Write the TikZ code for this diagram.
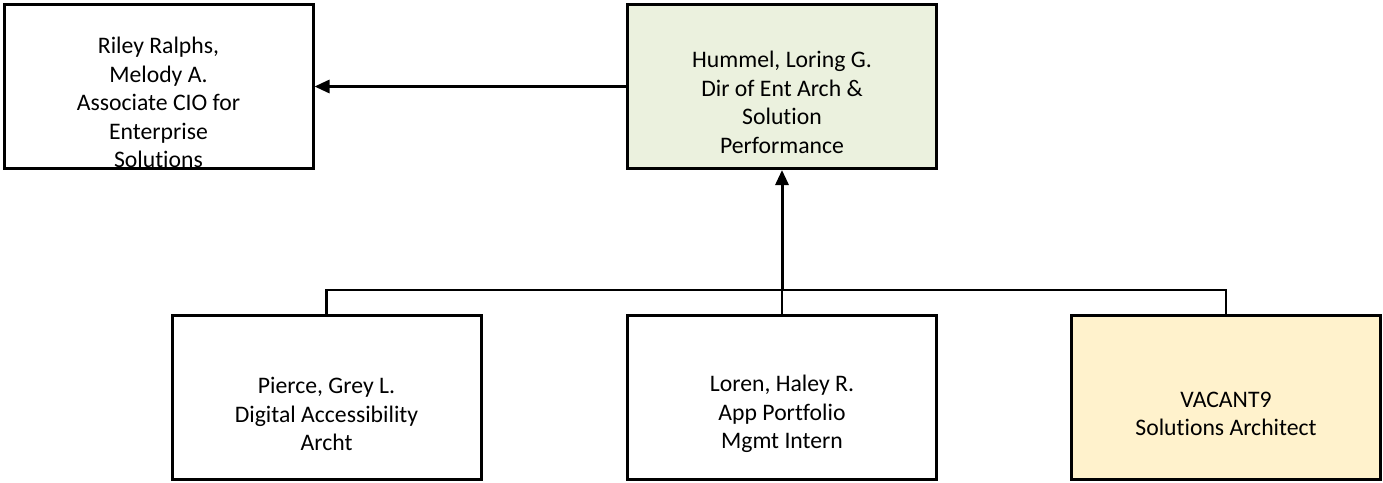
\documentclass[tikz,border=0pt]{standalone}
\usepackage{fontspec}
\setmainfont{Carlito}[Ligatures=NoCommon]
\usetikzlibrary{arrows.meta}

\begin{document}
\begin{tikzpicture}[x=1pt, y=-1pt,
    person/.style={draw=black, line width=3pt, minimum width=309pt, minimum height=164pt, inner sep=0pt},
    caption/.style={align=center, font=\fontsize{23.7}{28.5}\selectfont, inner sep=0pt},
    link/.style={line width=2.5pt},
    report/.style={line width=3pt, -{Triangle[length=15pt, width=13pt]}}]
  % Canvas
  \useasboundingbox (0,0) rectangle (1383,482);

  % Top row
  \node[person] (riley) at (158.5,86.5) {};
  \node[caption] (riley-t) at ([yshift=-16pt]riley.center) {Riley Ralphs,\\Melody A.\\Associate CIO for\\Enterprise\\Solutions};

  \node[person, fill={rgb,255:red,235;green,241;blue,222}] (hummel) at (782,86.5) {};
  \node[caption] (hummel-t) at ([yshift=-16pt]hummel.center) {Hummel, Loring G.\\Dir of Ent Arch \&\\Solution\\Performance};

  % Bottom row
  \node[person] (pierce) at (326.5,397) {};
  \node[caption] (pierce-t) at ([yshift=-17pt]pierce.center) {Pierce, Grey L.\\Digital Accessibility\\Archt};

  \node[person] (loren) at (782,397) {};
  \node[caption] (loren-t) at ([yshift=-17pt]loren.center) {Loren, Haley R.\\App Portfolio\\Mgmt Intern};

  \node[person, fill={rgb,255:red,255;green,242;blue,204}] (vacant) at (1226,397) {};
  \node[caption] (vacant-t) at ([yshift=-17pt]vacant.center) {VACANT9\\Solutions Architect};

  % Connectors
  \coordinate (bus) at (782,290);
  \draw[report] (hummel.west) -- (riley.east);
  \draw[link] (pierce.north) |- (bus) -| (vacant.north);
  \draw[link] (loren.north) -- (bus);
  \draw[report] (bus) -- (hummel.south);

\end{tikzpicture}
\end{document}
